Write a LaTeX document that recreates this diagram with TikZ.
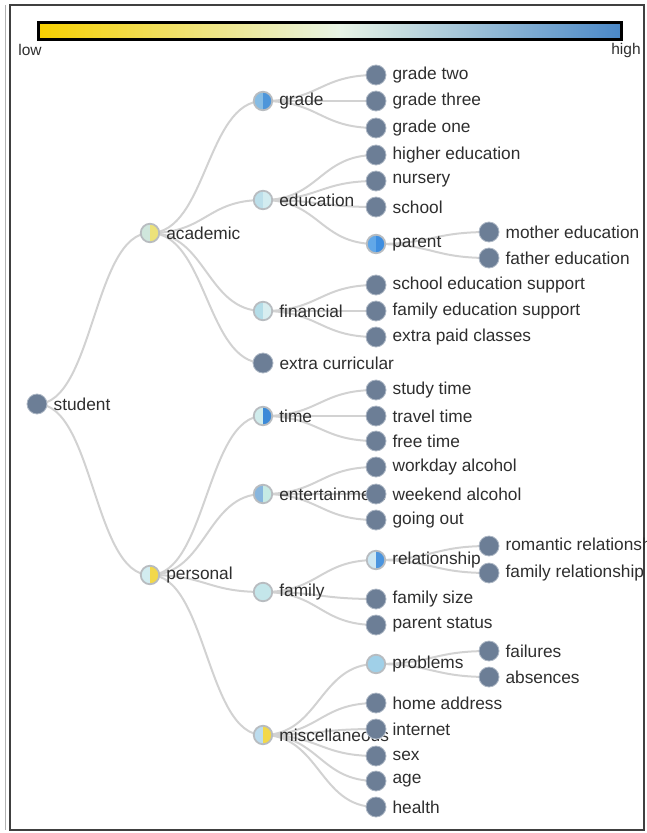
\documentclass[tikz,border=0pt]{standalone}
\usepackage{fontspec}
\setmainfont{Liberation Sans}
\usepackage{xcolor}
\usepackage{tikz}
\usetikzlibrary{arrows.meta}
\definecolor{leafgrey}{HTML}{6C7E96}
\definecolor{ringgrey}{HTML}{B8BCC0}
\definecolor{linkgrey}{HTML}{D2D2D2}
\definecolor{txt}{HTML}{2E2E2E}
\definecolor{cbyellow}{HTML}{F7D000}
\definecolor{cbpale}{HTML}{E8F4E6}
\definecolor{cbblue}{HTML}{4A88C8}
% half fills of the group nodes
\definecolor{paleyel}{HTML}{ECE27A}
\definecolor{yel}{HTML}{F2D84A}
\definecolor{mint}{HTML}{CFE6DC}
\definecolor{palecyan}{HTML}{D2ECF0}
\definecolor{cyan1}{HTML}{C4E6EA}
\definecolor{cyan2}{HTML}{BCDFEA}
\definecolor{cyan3}{HTML}{B4DDE8}
\definecolor{cyan4}{HTML}{D8EEF0}
\definecolor{lblue}{HTML}{A0D0E8}
\definecolor{lblue2}{HTML}{BCDCEE}
\definecolor{mblue}{HTML}{86BCE4}
\definecolor{mblue2}{HTML}{88B6DE}
\definecolor{dblue}{HTML}{4E96DA}
\definecolor{dblue2}{HTML}{3C8AD8}
\definecolor{pblue}{HTML}{62A8E8}
\definecolor{pblue2}{HTML}{3E8EE0}
\definecolor{rpale}{HTML}{CCE6F2}
\definecolor{rblue}{HTML}{4A94DE}
\definecolor{tpale}{HTML}{D0ECEC}
\definecolor{epale}{HTML}{C6EAE4}
\pgfdeclarelayer{bg}
\pgfsetlayers{bg,main}

\begin{document}
\begin{tikzpicture}[x=1pt, y=-1pt,
      font=\fontsize{17.3}{19}\selectfont,
      lbl/.style={text=txt, inner sep=1pt, label distance=5pt},
      leaf/.style={circle, fill=leafgrey, draw=leafgrey!55!white, line width=0.8pt,
                   minimum size=20pt, inner sep=0pt, label={[lbl]right:#1}},
      half/.style n args={3}{circle, draw=ringgrey, line width=1.8pt,
                   minimum size=18.5pt, inner sep=0pt, label={[lbl]right:#3},
                   path picture={
                     \fill[#1] (path picture bounding box.south west) rectangle (path picture bounding box.north);
                     \fill[#2] (path picture bounding box.south) rectangle (path picture bounding box.north east);}},
      link/.style={draw=linkgrey, line width=2pt,
                   to path={.. controls +(56.5,0) and +(-56.5,0) .. (\tikztotarget)}}]
    \useasboundingbox (0,0) rectangle (646,833);
    \clip (0,0) rectangle (646,833);
    % frame
    \draw[black!75, line width=2pt] (10,5) rectangle (644,830);
    \draw[black!30, line width=0.8pt] (5,5) -- (5,830);
    % colour scale
    \shade[left color=cbyellow, right color=cbpale] (38,22) rectangle (340,39);
    \shade[left color=cbpale, right color=cbblue] (339.5,22) rectangle (621,39);
    \draw[black, line width=3pt] (38,22) rectangle (621,39);
    \node[text=txt, font=\fontsize{15.5}{16}\selectfont] (low) at (30,50) {low};
    \node[text=txt, font=\fontsize{15.5}{16}\selectfont] (high) at (626,50) {high};

    % root and groups
    \node[leaf=student] (student) at (37,404) {};
    \node[half={mint}{paleyel}{academic}] (academic) at (150,233) {};
    \node[half={palecyan}{yel}{personal}] (personal) at (150,575) {};
    \node[half={mblue}{dblue}{grade}] (grade) at (263,101) {};
    \node[half={cyan2}{palecyan}{education}] (education) at (263,200) {};
    \node[half={cyan3}{cyan4}{financial}] (financial) at (263,311) {};
    \node[leaf=extra curricular] (extracurr) at (263,363) {};
    \node[half={tpale}{dblue2}{time}] (time) at (263,416) {};
    \node[half={mblue2}{epale}{entertainment}] (entertain) at (263,494) {};
    \node[half={cyan1}{cyan1}{family}] (family) at (263,592) {};
    \node[half={lblue2}{yel}{miscellaneous}] (misc) at (263,735) {};

    % third level
    \node[leaf=grade two] (gtwo) at (376,75) {};
    \node[leaf=grade three] (gthree) at (376,101) {};
    \node[leaf=grade one] (gone) at (376,128) {};
    \node[leaf=higher education] (higher) at (376,155) {};
    \node[leaf=nursery] (nursery) at (376,181) {};
    \node[leaf=school] (school) at (376,207) {};
    \node[half={pblue}{pblue2}{parent}] (parent) at (376,244) {};
    \node[leaf=school education support] (schsup) at (376,285) {};
    \node[leaf=family education support] (famsup) at (376,311) {};
    \node[leaf=extra paid classes] (paid) at (376,337) {};
    \node[leaf=study time] (study) at (376,390) {};
    \node[leaf=travel time] (travel) at (376,416) {};
    \node[leaf=free time] (free) at (376,441) {};
    \node[leaf=workday alcohol] (workday) at (376,467) {};
    \node[leaf=weekend alcohol] (weekend) at (376,494) {};
    \node[leaf=going out] (goout) at (376,520) {};
    \node[half={rpale}{rblue}{relationship}] (relation) at (376,560) {};
    \node[leaf=family size] (famsize) at (376,599) {};
    \node[leaf=parent status] (pstatus) at (376,625) {};
    \node[half={lblue}{lblue}{problems}] (problems) at (376,664) {};
    \node[leaf=home address] (address) at (376,703) {};
    \node[leaf=internet] (internet) at (376,729) {};
    \node[leaf=sex] (sex) at (376,756) {};
    \node[leaf=age] (age) at (376,781) {};
    \node[leaf=health] (health) at (376,807) {};

    % fourth level
    \node[leaf=mother education] (medu) at (489,232) {};
    \node[leaf=father education] (fedu) at (489,258) {};
    \node[leaf=romantic relationship] (romantic) at (489,546) {};
    \node[leaf=family relationship] (famrel) at (489,573) {};
    \node[leaf=failures] (failures) at (489,651) {};
    \node[leaf=absences] (absences) at (489,677) {};

    \begin{pgfonlayer}{bg}
      \draw[link] (student.center) to (academic.center); \draw[link] (student.center) to (personal.center);
      \draw[link] (academic.center) to (grade.center); \draw[link] (academic.center) to (education.center);
      \draw[link] (academic.center) to (financial.center); \draw[link] (academic.center) to (extracurr.center);
      \draw[link] (personal.center) to (time.center); \draw[link] (personal.center) to (entertain.center);
      \draw[link] (personal.center) to (family.center); \draw[link] (personal.center) to (misc.center);
      \draw[link] (grade.center) to (gtwo.center); \draw[link] (grade.center) to (gthree.center);
      \draw[link] (grade.center) to (gone.center);
      \draw[link] (education.center) to (higher.center); \draw[link] (education.center) to (nursery.center);
      \draw[link] (education.center) to (school.center); \draw[link] (education.center) to (parent.center);
      \draw[link] (financial.center) to (schsup.center); \draw[link] (financial.center) to (famsup.center);
      \draw[link] (financial.center) to (paid.center);
      \draw[link] (time.center) to (study.center); \draw[link] (time.center) to (travel.center);
      \draw[link] (time.center) to (free.center);
      \draw[link] (entertain.center) to (workday.center); \draw[link] (entertain.center) to (weekend.center);
      \draw[link] (entertain.center) to (goout.center);
      \draw[link] (family.center) to (relation.center); \draw[link] (family.center) to (famsize.center);
      \draw[link] (family.center) to (pstatus.center);
      \draw[link] (misc.center) to (problems.center); \draw[link] (misc.center) to (address.center);
      \draw[link] (misc.center) to (internet.center); \draw[link] (misc.center) to (sex.center);
      \draw[link] (misc.center) to (age.center); \draw[link] (misc.center) to (health.center);
      \draw[link] (parent.center) to (medu.center); \draw[link] (parent.center) to (fedu.center);
      \draw[link] (relation.center) to (romantic.center); \draw[link] (relation.center) to (famrel.center);
      \draw[link] (problems.center) to (failures.center); \draw[link] (problems.center) to (absences.center);
    \end{pgfonlayer}
  \end{tikzpicture}
\end{document}
